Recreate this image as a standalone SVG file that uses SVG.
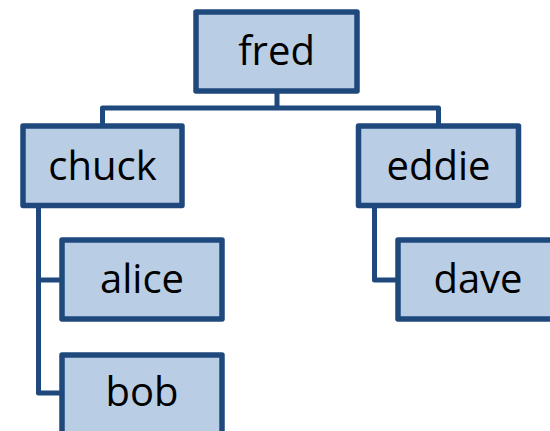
<svg xmlns="http://www.w3.org/2000/svg" width="550" height="431" viewBox="0 0 550 431">
<style>
.box{fill:#B9CDE5;stroke:#1F497D;stroke-width:5.5;stroke-linejoin:round}
.lbl{font-family:"Open Sans","Liberation Sans",sans-serif;font-size:40px;fill:#000;text-anchor:middle}
.conn{fill:none;stroke:#1F497D;stroke-width:5;stroke-linejoin:round}
</style>
<rect width="550" height="431" fill="#fff"/>
<g id="connectors">
<path class="conn" d="M277,91 V108 M102.5,126 V108 H438.5 V126"/>
<path class="conn" d="M62,393 H38.5 V205.5 M38.5,280 H62"/>
<path class="conn" d="M374.5,205.5 V280 H398"/>
</g>
<g id="fred"><rect class="box" x="196" y="12" width="161" height="79"/><text class="lbl" x="276.5" y="65">fred</text></g>
<g id="chuck"><rect class="box" x="23" y="126" width="159" height="79.5"/><text class="lbl" x="102.5" y="180">chuck</text></g>
<g id="eddie"><rect class="box" x="358.5" y="126" width="160" height="79.5"/><text class="lbl" x="438.5" y="180">eddie</text></g>
<g id="alice"><rect class="box" x="62" y="240" width="160" height="79"/><text class="lbl" x="142" y="293">alice</text></g>
<g id="bob"><rect class="box" x="62" y="355" width="160" height="79"/><text class="lbl" x="142" y="406">bob</text></g>
<g id="dave"><rect class="box" x="398" y="240" width="160" height="79"/><text class="lbl" x="478" y="293">dave</text></g>
</svg>
